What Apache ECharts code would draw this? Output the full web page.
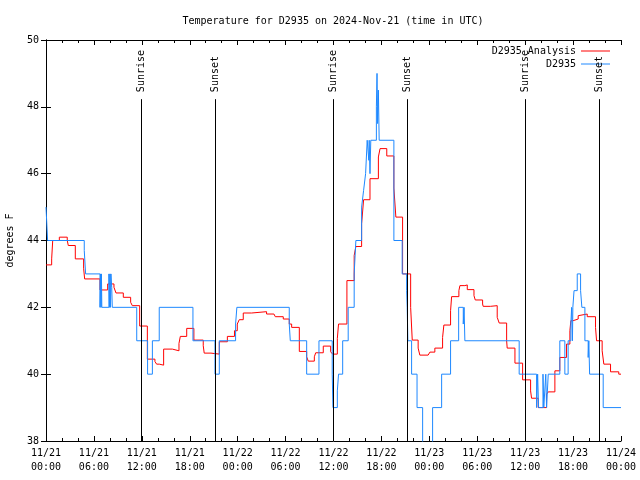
<!DOCTYPE html>
<html>
<head>
<meta charset="utf-8">
<script src="https://cdn.jsdelivr.net/npm/echarts@6/dist/echarts.min.js"></script>
<style>html,body{margin:0;padding:0;background:#fff;}#chart{width:640px;height:480px;}</style>
</head>
<body>
<div id="chart"></div>
<script>
// Hours since 2024-11-21 00:00 UTC, value held until next point
const obsTimes = [0,0.2,4.79,4.96,6.76,6.84,6.89,6.94,6.99,7.88,7.95,8.01,8.08,8.13,8.23,8.3,11.36,12.72,13.32,14.18,18.4,21.16,21.7,23.74,23.9,30.46,30.59,32.64,34.18,35.84,35.93,36.48,36.63,37.15,37.84,38.59,38.8,39.52,39.77,40.02,40.22,40.42,40.47,40.57,40.67,41.37,41.45,41.52,41.62,41.72,43.56,44.6,45.16,45.23,45.31,45.78,46.46,47.16,48.41,49.54,50.66,51.67,52.25,52.35,52.45,59.25,61.43,61.56,61.68,62.23,62.33,62.58,62.68,62.89,64.34,64.97,65.38,65.72,65.82,65.92,65.97,66.12,66.52,66.94,67.1,67.48,67.89,67.97,68.07,69.77,72];
const obsTemps = [45,44,43.7,43,42,43,42,43,42,43,42,43,42,43,42.6,42,41,40,41,42,41,40,41,41.5,42,41.5,41,40,41,40,39,39.5,40,41,42,43,44,45,45.5,46,47,46.4,47,46,47,48,49,47.5,48.5,47,44,43,42.5,42,41,40,39,37,39,40,41,42,41.5,42,41,40,39,40,39,40,39,40,39,40,41,40,41,41.5,42,41,42,42.5,43,42.5,42,41,40.5,41,40,39,39];

const anaTimes = [0,0.71,0.84,1.67,2.66,2.79,3.67,4.71,4.84,6.76,7.72,8.51,8.76,9.68,10.6,10.81,11.73,12.69,13.64,13.85,14.18,14.73,15.82,16.65,16.82,17.62,18.52,19.69,19.81,20.66,21.7,22.71,23.6,23.95,24.2,24.7,25.75,27.62,28.54,28.71,29.71,30.46,30.76,31.72,32.64,32.84,33.6,33.77,34.72,35.64,35.89,36.48,36.63,37.68,38.59,38.8,39.52,39.77,40.57,41.62,41.83,42.67,43.56,43.81,44.65,45.66,45.86,46.6,46.81,47.85,48.07,48.69,49.66,49.82,50.66,50.79,51.7,51.83,52.45,52.75,53.59,53.75,54.67,54.74,55.64,56.5,56.75,57.68,57.75,58.72,59.68,60.68,60.8,61.63,62.68,62.89,63.72,64.34,65.18,65.6,65.72,66.0,66.64,66.85,67.77,68.81,68.94,69.64,69.85,70.69,71.72,72];
const anaTemps = [43.27,43.45,44.0,44.1,44.0,43.85,43.45,43.17,42.85,42.52,42.7,42.6,42.43,42.3,42.15,42.05,41.44,40.45,40.38,40.3,40.27,40.75,40.7,40.92,41.13,41.37,41.02,40.85,40.63,40.6,40.97,41.13,41.3,41.5,41.63,41.83,41.87,41.8,41.76,41.72,41.65,41.5,41.4,40.68,40.52,40.39,40.52,40.64,40.84,40.67,40.6,41.07,41.5,42.8,43.55,43.82,44.5,45.22,45.85,46.5,46.75,46.53,45.57,44.7,43.0,42.0,41.02,40.78,40.57,40.62,40.66,40.78,41.1,41.47,41.9,42.32,42.5,42.65,42.67,42.53,42.35,42.22,42.1,42.03,42.05,41.7,41.53,41.0,40.78,40.33,39.83,39.5,39.28,39.0,39.4,39.47,40.1,40.5,40.9,41.3,41.6,41.65,41.75,41.8,41.72,41.4,41.0,40.7,40.3,40.07,40.0,40.0];

const sunTimes = [11.9, 21.16, 35.94, 45.2, 59.98, 69.25];
const sunLabels = ['Sunrise','Sunset','Sunrise','Sunset','Sunrise','Sunset'];
const sunLineTop = 48.23;
const sunLabelBase = 48.44;

const FONT = '"DejaVu Sans Mono", "Liberation Mono", monospace';
const pairs = (xs, ys) => xs.map((x, i) => [x, ys[i]]);

const chart = echarts.init(document.getElementById('chart'), null, {renderer: 'canvas'});

const xCommon = {
  type: 'value', min: 0, max: 72, interval: 6,
  axisLine: {show: true, lineStyle: {color: '#000', width: 1}},
  axisTick: {show: true, inside: true, length: 5, lineStyle: {color: '#000'}},
  minorTick: {show: true, splitNumber: 3, length: 3, lineStyle: {color: '#000'}},
  splitLine: {show: false}
};
const yCommon = {
  type: 'value', min: 38, max: 50, interval: 2,
  axisLine: {show: true, lineStyle: {color: '#000', width: 1}},
  axisTick: {show: true, inside: true, length: 5, lineStyle: {color: '#000'}},
  splitLine: {show: false}
};

chart.setOption({
  animation: false,
  backgroundColor: '#fff',
  title: {
    text: 'Temperature for D2935 on 2024-Nov-21 (time in UTC)',
    left: 333, top: 16, textAlign: 'center', padding: 0,
    textStyle: {fontFamily: FONT, fontSize: 10, fontWeight: 'normal', color: '#000'}
  },
  legend: [
    {data: ['D2935 Analysis'], right: 30, top: 46, padding: 0, align: 'right', icon: 'rect', itemWidth: 29, itemHeight: 1,
     textStyle: {fontFamily: FONT, fontSize: 10, color: '#000'}},
    {data: ['D2935'], right: 30, top: 59, padding: 0, align: 'right', icon: 'rect', itemWidth: 29, itemHeight: 1,
     textStyle: {fontFamily: FONT, fontSize: 10, color: '#000'}}
  ],
  grid: {left: 46, right: 19, top: 40, bottom: 39, show: false, containLabel: false, outerBoundsMode: 'none'},
  xAxis: [
    Object.assign({}, xCommon, {
      position: 'bottom',
      axisLabel: {
        show: true, margin: 5, color: '#000', fontFamily: FONT, fontSize: 10, lineHeight: 14,
        showMinLabel: true, showMaxLabel: true,
        formatter: function (v) {
          const d = 21 + Math.floor(v / 24);
          const h = v % 24;
          return '11/' + d + '\n' + (h < 10 ? '0' : '') + h + ':00';
        }
      }
    }),
    Object.assign({}, xCommon, {position: 'top', axisLabel: {show: false}})
  ],
  yAxis: [
    Object.assign({}, yCommon, {
      position: 'left',
      name: 'degrees F', nameLocation: 'middle', nameGap: 31, nameRotate: 90,
      nameTextStyle: {fontFamily: FONT, fontSize: 10, color: '#000'},
      axisLabel: {show: true, margin: 7, color: '#000', fontFamily: FONT, fontSize: 10}
    }),
    Object.assign({}, yCommon, {position: 'right', axisLabel: {show: false}})
  ],
  series: [
    {
      name: 'D2935 Analysis', type: 'line', step: 'end', symbol: 'none', clip: true,
      data: pairs(anaTimes, anaTemps),
      lineStyle: {color: '#ff0000', width: 1}, itemStyle: {color: '#ff0000'}, z: 3
    },
    {
      name: 'D2935', type: 'line', step: 'end', symbol: 'none', clip: true,
      data: pairs(obsTimes, obsTemps),
      lineStyle: {color: '#1e88ff', width: 1}, itemStyle: {color: '#1e88ff'}, z: 4
    },
    {
      type: 'custom', name: 'sun', silent: true, clip: false, z: 5,
      data: sunTimes.map(t => [t, 38]),
      encode: {x: 0, y: 1},
      renderItem: function (params, api) {
        const t = api.value(0);
        const p0 = api.coord([t, 38]);
        const p1 = api.coord([t, sunLineTop]);
        const pt = api.coord([t, sunLabelBase]);
        const x = Math.round(p0[0]) + 0.5;
        return {
          type: 'group',
          children: [
            {type: 'line', shape: {x1: x, y1: p0[1], x2: x, y2: p1[1]}, style: {stroke: '#000', lineWidth: 1}},
            {type: 'text', x: x, y: pt[1], rotation: Math.PI / 2,
             style: {text: sunLabels[params.dataIndex], font: '10px ' + FONT, align: 'left', verticalAlign: 'middle', fill: '#000'}}
          ]
        };
      }
    }
  ]
});
</script>
</body>
</html>
